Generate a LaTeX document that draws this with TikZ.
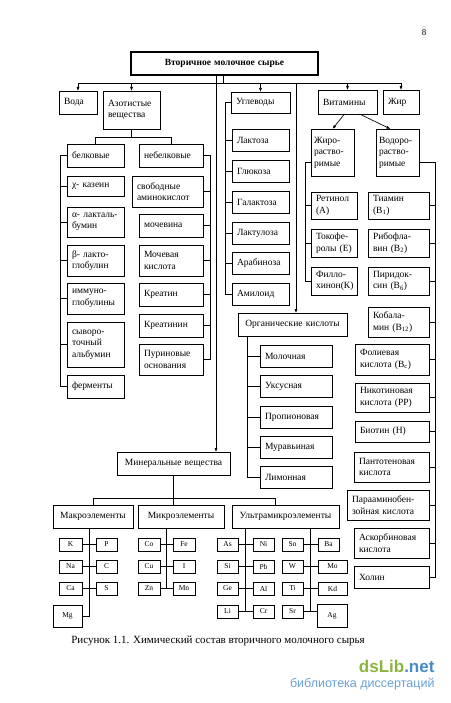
\documentclass[tikz,border=0pt]{standalone}
\usepackage{fontspec}
\setmainfont{Liberation Serif}
\newfontfamily\wmfont{Liberation Sans}
\definecolor{wmgreen}{RGB}{140,180,60}
\definecolor{wmblue}{RGB}{70,140,200}
\definecolor{wmlight}{RGB}{105,160,210}
\usetikzlibrary{arrows.meta,positioning,calc}

\tikzset{
  box/.style={draw, line width=0.75pt, anchor=north west, inner xsep=5pt, inner ysep=1pt,
              align=left, outer sep=0pt, font=\fontsize{9.5}{11.5}\selectfont},
  headbox/.style={box, align=center},
  elem/.style={draw, line width=0.75pt, anchor=north west, inner sep=0pt, outer sep=0pt,
               font=\fontsize{7.5}{9}\selectfont},
  link/.style={line width=0.65pt},
  arr/.style={line width=0.65pt, -{Latex[length=4pt,width=3pt]}},
}

\begin{document}
\begin{tikzpicture}[x=1pt, y=-1pt]
\useasboundingbox (0,0) rectangle (450,703);

% === Page number and title ===
\node (pnum) at (424,33) {\fontsize{9}{10}\selectfont 8};
\node[headbox, line width=1.4pt, text width=177pt, minimum height=23pt,
      font=\fontsize{9.5}{11}\selectfont\bfseries] (title) at (131,52) {Вторичное молочное сырье};

% === First level ===
\node[box, text width=28pt, minimum height=23pt] (voda) at (59,91) {Вода};
\node[box, text width=47pt, minimum height=38pt] (azot) at (103,91) {Азотистые\\вещества};
\node[box, text width=49pt, minimum height=21pt] (uglev) at (231,92) {Углеводы};
\node[box, text width=49pt, minimum height=24pt] (vitam) at (318,90) {Витамины};
\node[box, text width=26pt, minimum height=24pt] (zhir) at (383,90) {Жир};

% === Nitrogen compounds ===
\node[box, text width=47pt, minimum height=23pt] (belk) at (67,144) {белковые};
\node[box, text width=54pt, minimum height=23pt] (nebelk) at (139,144) {небелковые};

\node[box, text width=47pt, minimum height=20pt] (kazein) at (67,176) {χ- казеин};
\node[box, text width=47pt, minimum height=30pt] (alakt) at (67,207) {α- лакталь-\\бумин};
\node[box, text width=47pt, minimum height=31pt] (blakt) at (67,245) {β- лакто-\\глобулин};
\node[box, text width=47pt, minimum height=31pt] (immun) at (67,283) {иммуно-\\глобулины};
\node[box, text width=47pt, minimum height=45pt] (syvor) at (67,322) {сыворо-\\точный\\альбумин};
\node[box, text width=47pt, minimum height=23pt] (ferm) at (67,375) {ферменты};

\node[box, text width=61pt, minimum height=31pt] (svob) at (132,176) {свободные\\аминокислот};
\node[box, text width=54pt, minimum height=23pt] (mochev) at (139,214) {мочевина};
\node[box, text width=54pt, minimum height=31pt] (mochk) at (139,245) {Мочевая\\кислота};
\node[box, text width=54pt, minimum height=23pt] (kreatin) at (139,283) {Креатин};
\node[box, text width=54pt, minimum height=23pt] (kreatinin) at (139,314) {Креатинин};
\node[box, text width=54pt, minimum height=31pt] (purin) at (139,344) {Пуриновые\\основания};

% === Carbohydrates ===
\node[box, text width=47pt, minimum height=22pt] (lakt) at (232,129) {Лактоза};
\node[box, text width=47pt, minimum height=22pt] (gluk) at (232,160) {Глюкоза};
\node[box, text width=47pt, minimum height=22pt] (galakt) at (232,191) {Галактоза};
\node[box, text width=47pt, minimum height=22pt] (laktul) at (232,222) {Лактулоза};
\node[box, text width=47pt, minimum height=22pt] (arab) at (232,252) {Арабиноза};
\node[box, text width=47pt, minimum height=22pt] (amil) at (232,283) {Амилоид};

% === Organic acids ===
\node[headbox, text width=99pt, minimum height=23pt] (orgk) at (238,313) {Органические кислоты};
\node[box, text width=62pt, minimum height=22pt] (moloch) at (260,345) {Молочная};
\node[box, text width=62pt, minimum height=22pt] (uksus) at (260,375) {Уксусная};
\node[box, text width=62pt, minimum height=22pt] (propion) at (260,406) {Пропионовая};
\node[box, text width=62pt, minimum height=22pt] (muravy) at (260,436) {Муравьиная};
\node[box, text width=62pt, minimum height=22pt] (limon) at (260,466) {Лимонная};

% === Vitamins ===
\node[box, inner xsep=3pt, text width=37pt, minimum height=47pt] (zhirrast) at (311,129) {Жиро-\\раство-\\римые};
\node[box, inner xsep=3pt, text width=37pt, minimum height=47pt] (vodorast) at (376,129) {Водоро-\\раство-\\римые};

\node[box, text width=36pt, minimum height=27pt] (retinol) at (311,192) {Ретинол\\(А)};
\node[box, text width=36pt, minimum height=28pt] (tokof) at (311,229) {Токофе-\\ролы (Е)};
\node[box, text width=36pt, minimum height=28pt] (fillo) at (311,267) {Филло-\\хинон(К)};

\node[box, text width=51pt, minimum height=27pt] (tiamin) at (368,192) {Тиамин\\(B\textsubscript{1})};
\node[box, text width=51pt, minimum height=28pt] (ribofl) at (368,229) {Рибофла-\\вин (B\textsubscript{2})};
\node[box, text width=51pt, minimum height=28pt] (pirid) at (368,267) {Пиридок-\\син (B\textsubscript{6})};
\node[box, text width=51pt, minimum height=30pt] (kobal) at (368,307) {Кобала-\\мин (B\textsubscript{12})};
\node[box, text width=64pt, minimum height=31pt] (folk) at (355,344) {Фолиевая\\кислота (B\textsubscript{c})};
\node[box, text width=64pt, minimum height=29pt] (nikot) at (355,383) {Никотиновая\\кислота (РР)};
\node[box, text width=64pt, minimum height=21pt] (biotin) at (355,421) {Биотин (Н)};
\node[box, text width=65pt, minimum height=30pt] (pantot) at (354,452) {Пантотеновая\\кислота};
\node[box, text width=72pt, minimum height=30pt] (paraam) at (347,490) {Парааминобен-\\зойная кислота};
\node[box, text width=65pt, minimum height=30pt] (askorb) at (354,528) {Аскорбиновая\\кислота};
\node[box, text width=65pt, minimum height=22pt] (holin) at (354,566) {Холин};

% === Minerals ===
\node[headbox, text width=103pt, minimum height=23pt] (miner) at (117,452) {Минеральные вещества};
\node[headbox, text width=70pt, minimum height=23pt] (makro) at (53,505) {Макроэлементы};
\node[headbox, text width=76pt, minimum height=23pt] (mikro) at (138,505) {Микроэлементы};
\node[headbox, text width=97pt, minimum height=23pt] (ultra) at (232,505) {Ультрамикроэлементы};

% macro elements
\node[elem, minimum width=23pt, minimum height=13pt] (k) at (59,538) {K};
\node[elem, minimum width=23pt, minimum height=13pt] (na) at (59,560) {Na};
\node[elem, minimum width=23pt, minimum height=13pt] (ca) at (59,582) {Ca};
\node[elem, minimum width=29pt, minimum height=22pt] (mg) at (53,605) {Mg};
\node[elem, minimum width=21pt, minimum height=13pt] (p) at (96,538) {P};
\node[elem, minimum width=21pt, minimum height=13pt] (c) at (96,560) {C};
\node[elem, minimum width=21pt, minimum height=13pt] (s) at (96,582) {S};

% micro elements
\node[elem, minimum width=22pt, minimum height=13pt] (co) at (138,538) {Co};
\node[elem, minimum width=22pt, minimum height=13pt] (cu) at (138,560) {Cu};
\node[elem, minimum width=22pt, minimum height=13pt] (zn) at (138,582) {Zn};
\node[elem, minimum width=22pt, minimum height=13pt] (fe) at (173,538) {Fe};
\node[elem, minimum width=22pt, minimum height=13pt] (iod) at (173,560) {I};
\node[elem, minimum width=22pt, minimum height=13pt] (mn) at (173,582) {Mn};

% ultramicro elements
\node[elem, minimum width=21pt, minimum height=13pt] (as) at (217,538) {As};
\node[elem, minimum width=21pt, minimum height=13pt] (si) at (217,560) {Si};
\node[elem, minimum width=21pt, minimum height=13pt] (ge) at (217,582) {Ge};
\node[elem, minimum width=21pt, minimum height=13pt] (li) at (217,605) {Li};
\node[elem, minimum width=21pt, minimum height=13pt] (ni) at (253,538) {Ni};
\node[elem, minimum width=21pt, minimum height=13pt] (pb) at (253,560) {Pb};
\node[elem, minimum width=21pt, minimum height=13pt] (al) at (253,582) {Al};
\node[elem, minimum width=21pt, minimum height=13pt] (cr) at (253,605) {Cr};
\node[elem, minimum width=21pt, minimum height=13pt] (sn) at (282,538) {Sn};
\node[elem, minimum width=21pt, minimum height=13pt] (w) at (282,560) {W};
\node[elem, minimum width=21pt, minimum height=13pt] (ti) at (282,582) {Ti};
\node[elem, minimum width=21pt, minimum height=13pt] (sr) at (282,605) {Sr};
\node[elem, minimum width=21pt, minimum height=13pt] (ba) at (318,538) {Ba};
\node[elem, minimum width=29pt, minimum height=13pt] (mo) at (318,560) {Mo};
\node[elem, minimum width=29pt, minimum height=13pt] (kd) at (318,582) {Kd};
\node[elem, minimum width=30pt, minimum height=23pt] (ag) at (317,604) {Ag};

% === Main bus and arrows ===
\coordinate (bus) at (223,83);
\coordinate (mtop) at (216,75);
\coordinate (okx) at (296,83);
\draw[link] (title.south -| bus) -- (bus);
\draw[link] (bus -| voda.north) -- (bus -| zhir.north);
\draw[arr] (bus -| voda.north) -- (voda.north);
\draw[arr] (bus -| azot.north) -- (azot.north);
\draw[arr] (bus -| uglev.north) -- (uglev.north);
\draw[arr] (bus -| vitam.north) -- (vitam.north);
\draw[arr] (bus -| zhir.north) -- (zhir.north);
\draw[arr] (mtop) -- (mtop |- miner.north);
\draw[arr] (okx) -- (okx |- orgk.north);

% nitrogen branches
\draw[link] (azot.south) -- ++(0,8) -| (belk.north);
\draw[link] (azot.south) ++(0,8) -| (nebelk.north);
\draw[link] (belk.west) -- ++(-7,0) |- (ferm.west);
\draw[link] (kazein.west) -- ++(-7,0);
\draw[link] (alakt.west) -- ++(-7,0);
\draw[link] (blakt.west) -- ++(-7,0);
\draw[link] (immun.west) -- ++(-7,0);
\draw[link] (syvor.west) -- ++(-7,0);
\draw[link] (nebelk.east) -- ++(7,0) |- (purin.east);
\draw[link] (svob.east) -- ++(7,0);
\draw[link] (mochev.east) -- ++(7,0);
\draw[link] (mochk.east) -- ++(7,0);
\draw[link] (kreatin.east) -- ++(7,0);
\draw[link] (kreatinin.east) -- ++(7,0);

% carbohydrates
\draw[link] (uglev.west) -- ++(-6,0) |- (amil.west);
\draw[link] (lakt.west) -- ++(-7,0);
\draw[link] (gluk.west) -- ++(-7,0);
\draw[link] (galakt.west) -- ++(-7,0);
\draw[link] (laktul.west) -- ++(-7,0);
\draw[link] (arab.west) -- ++(-7,0);

% organic acids
\draw[link] ([xshift=9pt]orgk.south west) |- (limon.west);
\draw[link] (moloch.west) -- ++(-13,0);
\draw[link] (uksus.west) -- ++(-13,0);
\draw[link] (propion.west) -- ++(-13,0);
\draw[link] (muravy.west) -- ++(-13,0);

% vitamins
\draw[arr] ([xshift=-3pt]vitam.south) -- (zhirrast.north);
\draw[arr] ([xshift=12pt]vitam.south) -- ([xshift=-7pt]vodorast.north);
\draw[link] ([yshift=-10pt]zhirrast.west) -- ++(-6,0) |- (fillo.west);
\draw[link] (retinol.west) -- ++(-6,0);
\draw[link] (tokof.west) -- ++(-6,0);
\draw[link] ([yshift=-10pt]vodorast.east) -- ++(16,0) |- (holin.east);
\draw[link] (tiamin.east) -- ++(6,0);
\draw[link] (ribofl.east) -- ++(6,0);
\draw[link] (pirid.east) -- ++(6,0);
\draw[link] (kobal.east) -- ++(6,0);
\draw[link] (folk.east) -- ++(6,0);
\draw[link] (nikot.east) -- ++(6,0);
\draw[link] (biotin.east) -- ++(6,0);
\draw[link] (pantot.east) -- ++(6,0);
\draw[link] (paraam.east) -- ++(6,0);
\draw[link] (askorb.east) -- ++(6,0);

% minerals
\coordinate (ubus) at (275,498);
\draw[link] (miner.south) -- (miner.south |- mikro.north);
\draw[link] (makro.north) |- (ubus) -- (ubus |- ultra.north);
\coordinate (mkt) at (89,528);
\coordinate (mit) at (166.5,528);
\coordinate (ut1) at (245.5,528);
\coordinate (ut2) at (310.5,528);
\draw[link] (mkt) |- (mg.east);
\draw[link] (k.east) -- (p.west);
\draw[link] (na.east) -- (c.west);
\draw[link] (ca.east) -- (s.west);
\draw[link] (mit) -- (mit |- zn.east);
\draw[link] (co.east) -- (fe.west);
\draw[link] (cu.east) -- (iod.west);
\draw[link] (zn.east) -- (mn.west);
\draw[link] (ut1) -- (ut1 |- li.east);
\draw[link] (as.east) -- (ni.west);
\draw[link] (si.east) -- (pb.west);
\draw[link] (ge.east) -- (al.west);
\draw[link] (li.east) -- (cr.west);
\draw[link] (ut2) -- (ut2 |- sr.east);
\draw[link] (sn.east) -- (ba.west);
\draw[link] (w.east) -- (mo.west);
\draw[link] (ti.east) -- (kd.west);
\draw[link] (sr.east) -- (sr.east -| ag.west);

% === Caption ===
\node[font=\fontsize{11}{12}\selectfont] (caption) at (218,641)
     {Рисунок 1.1. Химический состав вторичного молочного сырья};

% === Watermark ===
\node[anchor=east, font=\wmfont\bfseries\fontsize{17}{18}\selectfont] (wmlogo) at (438,666)
     {\textcolor{wmgreen}{dsLib}\textcolor{wmblue}{.net}};
\node[anchor=east, text=wmlight, font=\wmfont\fontsize{12.5}{14}\selectfont] (wmtext) at (438,684)
     {библиотека диссертаций};

\end{tikzpicture}
\end{document}
